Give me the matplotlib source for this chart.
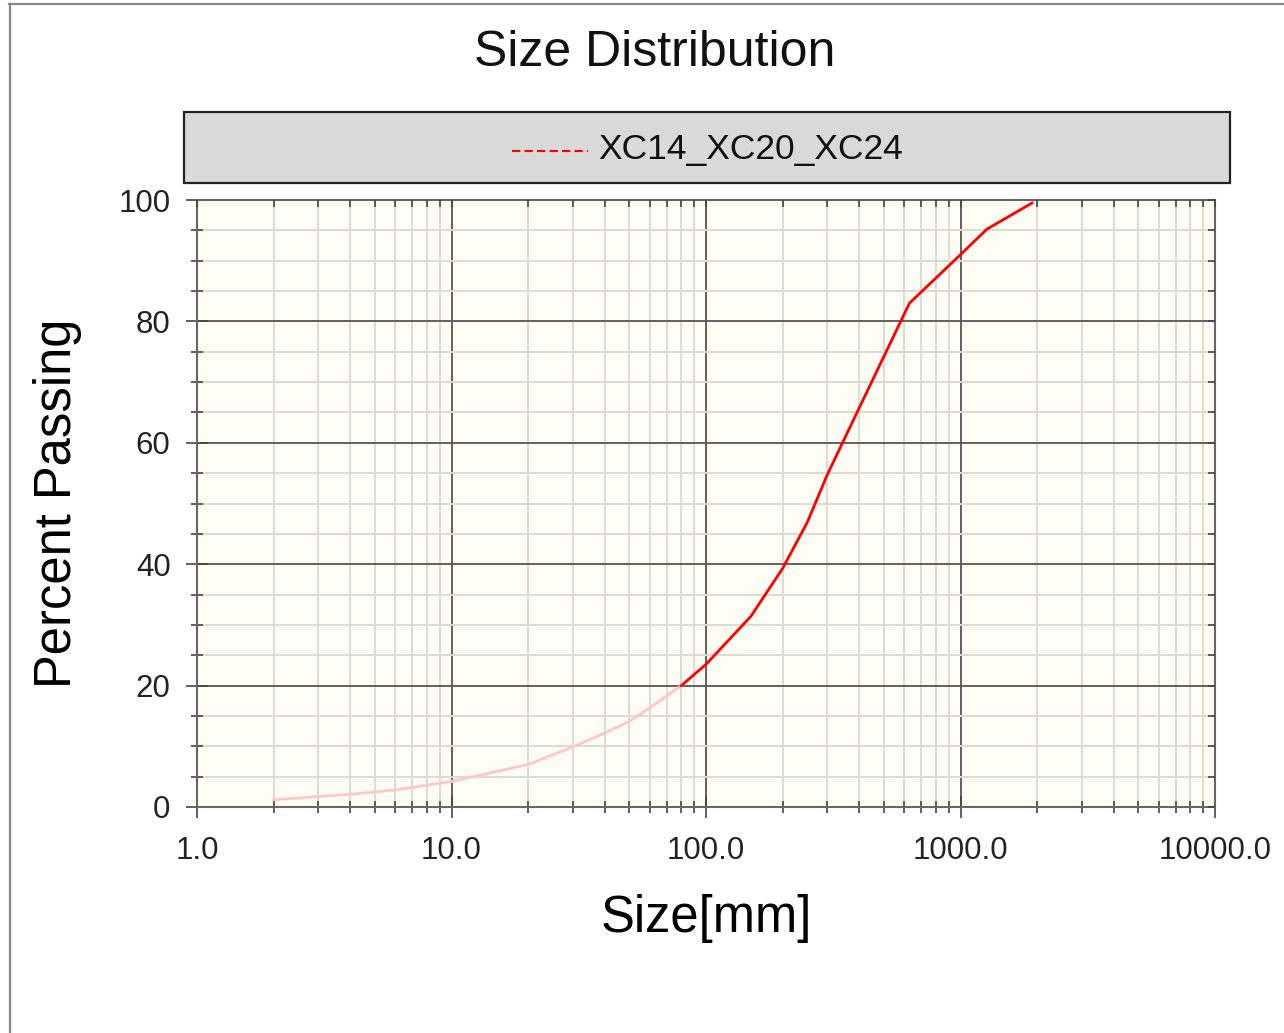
import matplotlib
matplotlib.use("Agg")
import matplotlib.pyplot as plt
from matplotlib.ticker import LogLocator, FixedLocator, FuncFormatter, NullFormatter
from matplotlib.lines import Line2D
from matplotlib.patches import Rectangle

# ---- data ----
series_name = "XC14_XC20_XC24"
fine_size = [2, 4, 6, 10, 20, 30, 40, 50, 60, 80]
fine_pass = [1.2, 2.1, 2.8, 4.2, 7.0, 9.9, 12.2, 14.1, 16.3, 20.0]
meas_size = [80, 100, 150, 200, 250, 300, 385, 630, 1000, 1270, 1910]
meas_pass = [20.0, 23.5, 31.4, 39.3, 46.9, 54.8, 64.3, 83.0, 91.0, 95.2, 99.5]
x_ticks = [1, 10, 100, 1000, 10000]
x_tick_labels = ["1.0", "10.0", "100.0", "1000.0", "10000.0"]
y_ticks = [0, 20, 40, 60, 80, 100]

plt.rcParams['font.family'] = ['Liberation Sans', 'DejaVu Sans']

W, H = 1284, 1033
fig = plt.figure(figsize=(W / 100, H / 100), dpi=100)
fig.patch.set_facecolor('white')

def fx(px):
    return px / W

def fy(py):
    return 1 - py / H

ax = fig.add_axes([fx(197), fy(807), fx(1215) - fx(197), fy(200) - fy(807)])
ax.set_facecolor('#fdfdf4')
ax.set_xscale('log')
ax.set_xlim(1, 10000)
ax.set_ylim(0, 100)

ax.xaxis.set_major_locator(FixedLocator(x_ticks))
ax.xaxis.set_major_formatter(FuncFormatter(lambda v, p: x_tick_labels[x_ticks.index(round(v))] if round(v) in x_ticks else ""))
ax.xaxis.set_minor_locator(LogLocator(base=10, subs=[2, 3, 4, 5, 6, 7, 8, 9], numticks=20))
ax.xaxis.set_minor_formatter(NullFormatter())
ax.yaxis.set_major_locator(FixedLocator(y_ticks))
ax.yaxis.set_minor_locator(FixedLocator(list(range(0, 101, 5))))

ax.grid(which='minor', color='#dcdcd6', lw=1.4, zorder=0)
ax.grid(which='major', color='#555555', lw=1.3, zorder=1)
ax.set_axisbelow(True)

ax.tick_params(which='major', direction='inout', length=16, width=1.2, color='#444444',
               labelsize=22.5, labelcolor='#222222')
ax.tick_params(axis='y', which='major', pad=11)
ax.tick_params(axis='x', which='major', pad=13)
ax.tick_params(which='minor', direction='inout', length=8, width=1.2, color='#444444')

for s in ax.spines.values():
    s.set_color('#666666')
    s.set_linewidth(1.5)

# inward ticks on top and right
axr = ax.twinx()
axr.set_ylim(0, 100)
axr.yaxis.set_major_locator(FixedLocator(y_ticks))
axr.yaxis.set_minor_locator(FixedLocator(list(range(0, 101, 5))))
axr.tick_params(which='both', direction='in', length=5, width=1.2, color='#444444', labelright=False)
axt = ax.twiny()
axt.set_xscale('log')
axt.set_xlim(1, 10000)
axt.xaxis.set_major_locator(FixedLocator(x_ticks))
axt.xaxis.set_minor_locator(LogLocator(base=10, subs=[2, 3, 4, 5, 6, 7, 8, 9], numticks=20))
axt.xaxis.set_minor_formatter(NullFormatter())
axt.tick_params(which='both', direction='in', length=5, width=1.2, color='#444444', labeltop=False)
for a in (axr, axt):
    for s in a.spines.values():
        s.set_visible(False)

ax.plot(fine_size, fine_pass, color='#ffc8c8', lw=2.0, zorder=3)
ax.plot(meas_size, meas_pass, color='#ff0000', lw=2.0, zorder=4)

ax.set_xlabel("Size[mm]", fontsize=36.5, labelpad=20)
ax.set_ylabel("Percent Passing", fontsize=36.5, labelpad=26)

# title
fig.text(fx(655), fy(53), "Size Distribution", fontsize=36, ha='center', va='center', color='#111111')

# legend box
fig.patches.append(Rectangle((fx(184), fy(183)), fx(1230) - fx(184), fy(112) - fy(183),
                             transform=fig.transFigure, facecolor='#d9d9d9',
                             edgecolor='#222222', lw=1.6, zorder=5))
fig.lines.append(Line2D([fx(512), fx(588)], [fy(151), fy(151)], transform=fig.transFigure,
                        color='#ff0000', lw=1.5, dashes=(4, 2), zorder=6))
fig.text(fx(598), fy(149), series_name, fontsize=25.5, ha='left', va='center', color='#111111', zorder=7)

# window border (top and left)
fig.lines.append(Line2D([fx(9), 1], [fy(3.5), fy(3.5)], transform=fig.transFigure, color='#888888', lw=1.6))
fig.lines.append(Line2D([fx(9.5), fx(9.5)], [0, fy(3.5)], transform=fig.transFigure, color='#888888', lw=1.6))

fig.savefig("out.png", dpi=100)
